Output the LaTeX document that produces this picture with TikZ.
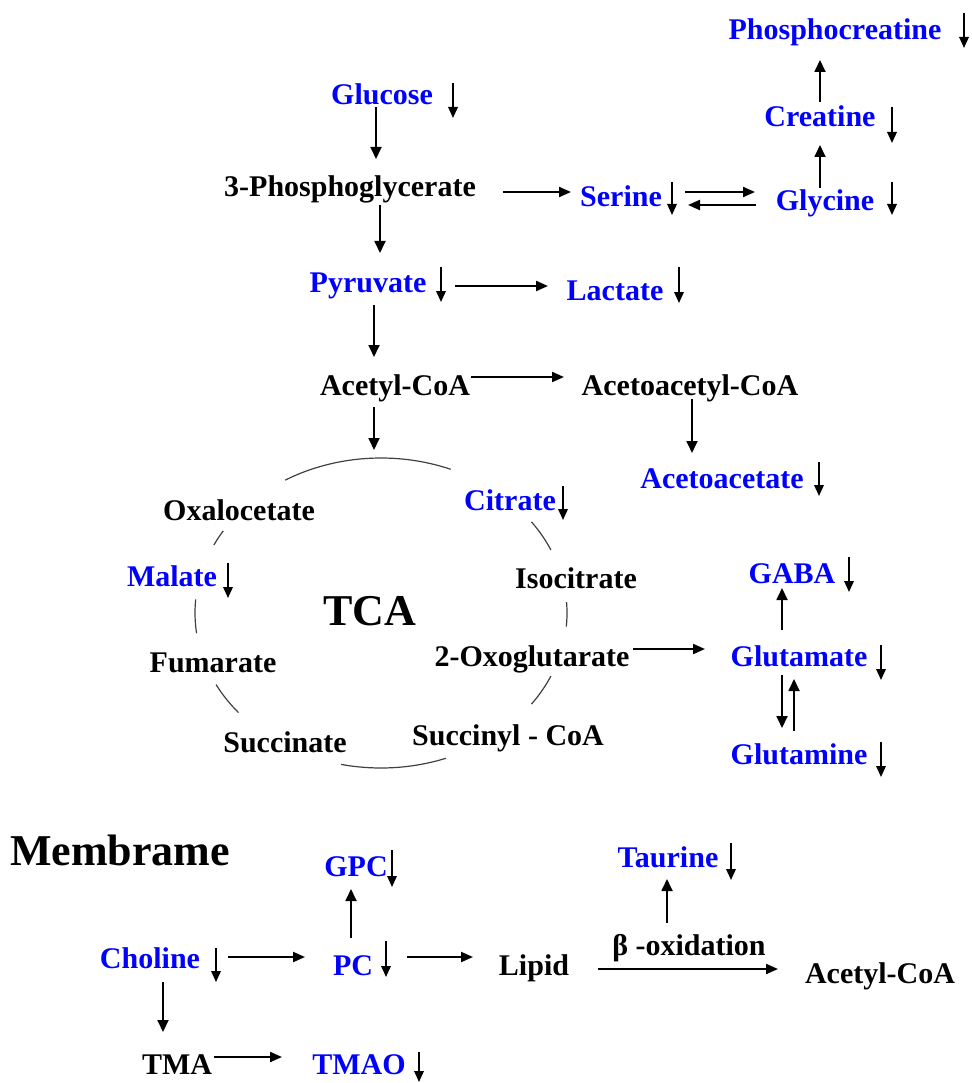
\documentclass[tikz,border=0pt]{standalone}
\usepackage{fontspec}
\setmainfont{Liberation Serif}
\usetikzlibrary{arrows.meta,calc}
\definecolor{mblue}{RGB}{0,0,255}
\begin{document}
\begin{tikzpicture}[x=1pt,y=-1pt,
  lbl/.style={font=\fontsize{30}{30}\selectfont\bfseries, inner sep=0pt, anchor=base, text height=21pt, text depth=6pt},
  bl/.style={lbl, text=mblue},
  bk/.style={lbl, text=black},
  big/.style={font=\fontsize{44}{44}\selectfont\bfseries, inner sep=0pt, anchor=base, text=black},
  arr/.style={line width=1.8pt, -{Triangle[length=12pt,width=11pt]}},
  harr/.style={line width=2.1pt, -{Triangle[length=12pt,width=10pt]}},
  ind/.style={line width=1.8pt, -{Triangle[length=11pt,width=9.5pt]}},
  tcaarc/.style={line width=1.2pt, black!75}]
\useasboundingbox (0,0) rectangle (971,1083);
% nodes
\node[bl] (pcr) at (835,40) {Phosphocreatine};
\node[bl] (glu) at (382,105) {Glucose};
\node[bl] (cre) at (820,127) {Creatine};
\node[bk] (pg) at (350,197) {3-Phosphoglycerate};
\node[bl] (ser) at (621,207) {Serine};
\node[bl] (gly) at (825,211) {Glycine};
\node[bl] (pyr) at (368,292) {Pyruvate};
\node[bl] (lac) at (615,300) {Lactate};
\node[bk] (aca) at (395,395) {Acetyl-CoA};
\node[bk] (aaca) at (690,395) {Acetoacetyl-CoA};
\node[bl] (aac) at (722,488) {Acetoacetate};
\node[bk] (oxa) at (239,520) {Oxalocetate};
\node[bl] (cit) at (510,510) {Citrate};
\node[bl] (mal) at (172,586) {Malate};
\node[bk] (iso) at (576,588) {Isocitrate};
\node[bl] (gaba) at (792,583) {GABA};
\node[big] (tca) at (370,625) {TCA};
\node[bk] (fum) at (213,672) {Fumarate};
\node[bk] (oxo) at (532,666) {2-Oxoglutarate};
\node[bl] (glt) at (799,666) {Glutamate};
\node[bk] (suc) at (285,752) {Succinate};
\node[bk] (scoa) at (508,745) {Succinyl - CoA};
\node[bl] (gln) at (799,764) {Glutamine};
\node[big] (mem) at (120,865) {Membrame};
\node[bl] (gpc) at (356,876) {GPC};
\node[bl] (tau) at (668,867) {Taurine};
\node[bl] (cho) at (150,968) {Choline};
\node[bl] (pc) at (353,975) {PC};
\node[bk] (lip) at (534,975) {Lipid};
\node[bk] (box) at (689,955) {β -oxidation};
\node[bk] (aca2) at (880,983) {Acetyl-CoA};
\node[bk] (tma) at (177,1074) {TMA};
\node[bl] (tmao) at (359,1074) {TMAO};
% TCA cycle
\coordinate (tc) at (381,613);
\coordinate (tcain) at (374,450);
\draw[tcaarc] (tc) ++(-68:186 and 155) arc[start angle=-68,end angle=-121,x radius=186,y radius=155];
\draw[tcaarc] (tc) ++(-24:186 and 155) arc[start angle=-24,end angle=-36,x radius=186,y radius=155];
\draw[tcaarc] (tc) ++(-148:186 and 155) arc[start angle=-148,end angle=-154,x radius=186,y radius=155];
\draw[tcaarc] (tc) ++(-175:186 and 155) arc[start angle=-175,end angle=-187.5,x radius=186,y radius=155];
\draw[tcaarc] (tc) ++(-4:186 and 155) arc[start angle=-4,end angle=5,x radius=186,y radius=155];
\draw[tcaarc] (tc) ++(-207.5:186 and 155) arc[start angle=-207.5,end angle=-220,x radius=186,y radius=155];
\draw[tcaarc] (tc) ++(24:186 and 155) arc[start angle=24,end angle=36,x radius=186,y radius=155];
\draw[tcaarc] (tc) ++(69.6:186 and 155) arc[start angle=69.6,end angle=102.4,x radius=186,y radius=155];
% connectors
\draw[arr] ($(glu.base)+(-6,2)$) -- ($(pg.base)+(26,-38)$);
\draw[harr] ($(pg.base)+(153,-5)$) -- ($(ser.base)+(-50,-15)$);
\draw[harr] ($(ser.base)+(64,-15)$) -- ($(gly.base)+(-70,-19)$);
\draw[harr] ($(gly.base)+(-69,-6)$) -- ($(ser.base)+(67,-2)$);
\draw[arr] ($(gly.base)+(-5,-23)$) -- ($(cre.base)+(0,18)$);
\draw[arr] ($(cre.base)+(0,-25)$) -- ($(pcr.base)+(-15,20)$);
\draw[arr] ($(pg.base)+(30,8)$) -- ($(pyr.base)+(12,-39)$);
\draw[harr] ($(pyr.base)+(87,-6)$) -- ($(lac.base)+(-67,-14)$);
\draw[arr] ($(pyr.base)+(6,13)$) -- ($(aca.base)+(-21,-38)$);
\draw[harr] ($(aca.base)+(76,-18)$) -- ($(aaca.base)+(-126,-18)$);
\draw[arr] ($(aca.base)+(-21,12)$) -- (tcain);
\draw[arr] ($(aaca.base)+(2,4)$) -- ($(aac.base)+(-30,-35)$);
\draw[harr] ($(oxo.base)+(101,-17)$) -- ($(glt.base)+(-94,-17)$);
\draw[arr] ($(glt.base)+(-17,-36)$) -- ($(gaba.base)+(-10,5)$);
\draw[arr] ($(glt.base)+(-17,9)$) -- ($(gln.base)+(-17,-36)$);
\draw[arr] ($(gln.base)+(-5,-33)$) -- ($(glt.base)+(-5,13)$);
\draw[arr] ($(pc.base)+(-2,-37)$) -- ($(gpc.base)+(-5,13)$);
\draw[arr] ($(box.base)+(-22,-32)$) -- ($(tau.base)+(-1,12)$);
\draw[harr] ($(cho.base)+(78,-11)$) -- ($(pc.base)+(-48,-18)$);
\draw[harr] ($(pc.base)+(54,-18)$) -- ($(lip.base)+(-61,-18)$);
\draw[harr] ($(lip.base)+(64,-6)$) -- ($(aca2.base)+(-102,-14)$);
\draw[arr] ($(cho.base)+(13,14)$) -- ($(tma.base)+(-14,-42)$);
\draw[harr] ($(tma.base)+(37,-17)$) -- ($(tmao.base)+(-77,-17)$);
% decrease indicators
\draw[ind] ($(pcr.base)+(129,-27)$) -- ++(0,35);
\draw[ind] ($(glu.base)+(71,-22)$) -- ++(0,35);
\draw[ind] ($(cre.base)+(72,-20)$) -- ++(0,36);
\draw[ind] ($(ser.base)+(51,-25)$) -- ++(0,33);
\draw[ind] ($(gly.base)+(67,-29)$) -- ++(0,33);
\draw[ind] ($(pyr.base)+(73,-25)$) -- ++(0,35);
\draw[ind] ($(lac.base)+(64,-33)$) -- ++(0,36);
\draw[ind] ($(aac.base)+(97,-26)$) -- ++(0,34);
\draw[ind] ($(cit.base)+(53,-24)$) -- ++(0,34);
\draw[ind] ($(mal.base)+(56,-23)$) -- ++(0,35);
\draw[ind] ($(gaba.base)+(57,-26)$) -- ++(0,35);
\draw[ind] ($(glt.base)+(82,-21)$) -- ++(0,35);
\draw[ind] ($(gln.base)+(82,-22)$) -- ++(0,35);
\draw[ind] ($(gpc.base)+(36,-26)$) -- ++(0,37);
\draw[ind] ($(tau.base)+(63,-24)$) -- ++(0,37);
\draw[ind] ($(cho.base)+(66,-20)$) -- ++(0,34);
\draw[ind] ($(pc.base)+(33,-34)$) -- ++(0,36);
\draw[ind] ($(tmao.base)+(60,-22)$) -- ++(0,30);
\end{tikzpicture}
\end{document}
